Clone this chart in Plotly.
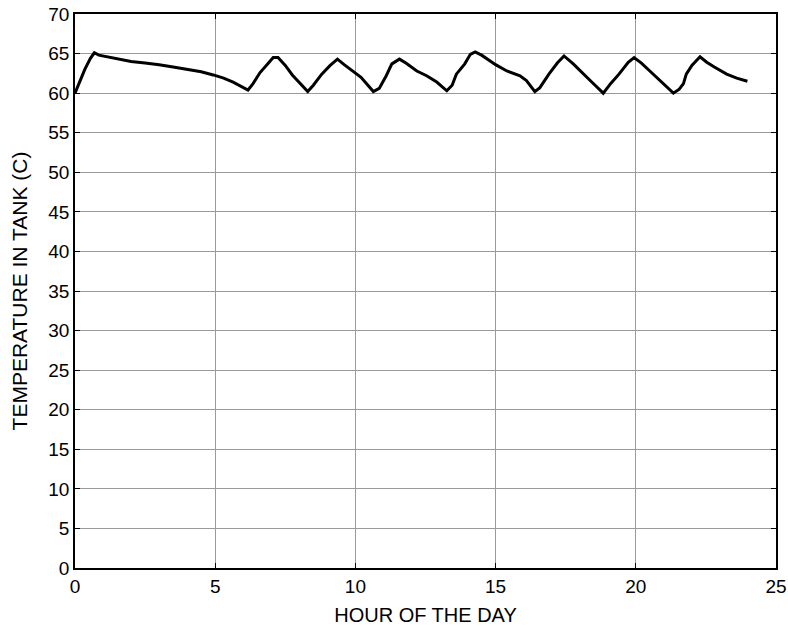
import plotly.graph_objects as go

# Tank temperature over one day
hours = [
    0.00, 0.15, 0.35, 0.55, 0.69, 0.85, 1.14, 1.50, 2.00, 2.50, 3.00, 3.50,
    4.00, 4.50, 4.93, 5.30, 5.64, 5.90, 6.17, 6.35, 6.60, 6.90, 7.07, 7.24,
    7.50, 7.75, 8.00, 8.30, 8.50, 8.80, 9.10, 9.36, 9.60, 9.92, 10.20, 10.40,
    10.64, 10.85, 11.10, 11.30, 11.57, 11.80, 12.19, 12.54, 12.90, 13.26, 13.45,
    13.60, 13.90, 14.10, 14.27, 14.50, 14.74, 15.00, 15.40, 15.87, 16.10, 16.40,
    16.58, 16.90, 17.20, 17.44, 17.77, 18.07, 18.40, 18.84, 19.10, 19.40, 19.73,
    19.94, 20.20, 20.50, 20.74, 21.10, 21.34, 21.55, 21.70, 21.80, 22.00, 22.29,
    22.53, 22.80, 23.24, 23.60, 23.98,
]
temperature = [
    60.0, 61.3, 63.0, 64.4, 65.1, 64.8, 64.6, 64.3, 64.0, 63.8, 63.6, 63.3,
    63.0, 62.7, 62.3, 61.9, 61.4, 60.9, 60.4, 61.2, 62.6, 63.8, 64.5, 64.5,
    63.5, 62.3, 61.3, 60.2, 61.0, 62.4, 63.5, 64.3, 63.6, 62.7, 62.0, 61.2,
    60.2, 60.6, 62.2, 63.7, 64.3, 63.8, 62.8, 62.2, 61.4, 60.3, 61.0,
    62.4, 63.7, 64.9, 65.2, 64.8, 64.2, 63.6, 62.8, 62.2, 61.6, 60.2,
    60.7, 62.4, 63.8, 64.7, 63.7, 62.6, 61.5, 60.0, 61.2, 62.4, 63.9,
    64.5, 63.8, 62.8, 62.0, 60.9, 60.0, 60.5, 61.2, 62.4, 63.5, 64.6,
    63.9, 63.3, 62.4, 61.9, 61.5,
]

x_ticks = [0, 5, 10, 15, 20, 25]
y_ticks = list(range(0, 71, 5))

font_family = "Liberation Sans, Arial, sans-serif"
tick_font = dict(family=font_family, size=19, color="black")

fig = go.Figure(
    go.Scatter(
        x=hours,
        y=temperature,
        mode="lines",
        line=dict(color="black", width=3),
        showlegend=False,
    )
)

axis_common = dict(
    showline=True,
    linecolor="black",
    linewidth=1.5,
    mirror="ticks",
    ticks="inside",
    ticklen=5,
    tickcolor="black",
    showgrid=True,
    gridcolor="#9a9a9a",
    gridwidth=1,
    zeroline=False,
    tickfont=tick_font,
    automargin=False,
)

fig.update_xaxes(
    range=[0, 25],
    tickvals=x_ticks,
    title=dict(text="HOUR OF THE DAY",
               font=dict(family=font_family, size=20, color="black"), standoff=12),
    **axis_common,
)
fig.update_yaxes(
    range=[0, 70],
    tickvals=y_ticks,
    title=dict(text="TEMPERATURE IN TANK (C)",
               font=dict(family=font_family, size=21, color="black"), standoff=15),
    **axis_common,
)

fig.update_layout(
    width=788,
    height=626,
    margin=dict(l=75, r=12, t=14, b=58),
    paper_bgcolor="white",
    plot_bgcolor="white",
)

fig.write_html("out.html")
